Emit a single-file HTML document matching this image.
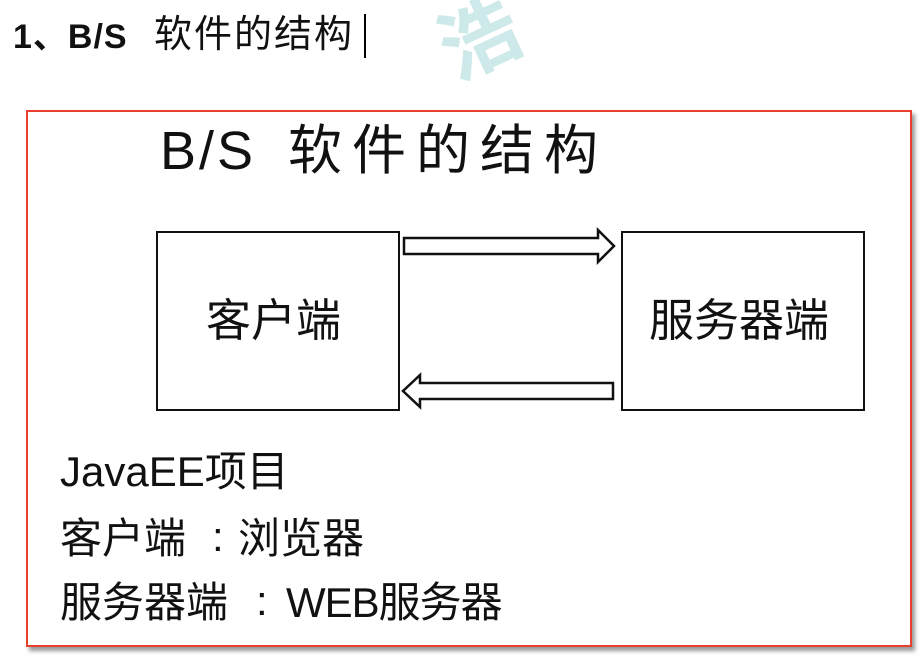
<!DOCTYPE html>
<html><head><meta charset="utf-8"><style>
body{margin:0;width:922px;height:658px;background:#fff;position:relative;overflow:hidden;font-family:"Liberation Sans","Noto Sans CJK SC",sans-serif;color:#111}
.a{position:absolute;white-space:nowrap;line-height:1}
</style></head><body>
<div class="a" style="left:13px;top:20px;font-size:34px;letter-spacing:1px"><b>1、B/S</b></div>
<div class="a" style="left:154px;top:16px;font-size:38px;letter-spacing:2px">软件的结构</div>
<div class="a" style="left:364px;top:14px;width:2px;height:44px;background:#000"></div>
<div class="a" style="left:440px;top:0;font-size:80px;color:#cde9ea;transform:rotate(-25deg);font-weight:bold">浩</div>
<div class="a" style="left:26px;top:110px;width:882px;height:533px;border:2px solid #e8402c;box-shadow:3px 4px 4px #999;background:#fff"></div>
<div class="a" style="left:160px;top:124px;font-size:54px;letter-spacing:3px">B/S</div>
<div class="a" style="left:288px;top:124px;font-size:54px;letter-spacing:10px">软件的结构</div>
<div class="a" style="left:156px;top:231px;width:240px;height:176px;border:2px solid #111"></div>
<div class="a" style="left:621px;top:231px;width:240px;height:176px;border:2px solid #111"></div>
<div class="a" style="left:206px;top:298px;font-size:45px">客户端</div>
<div class="a" style="left:649px;top:298px;font-size:45px">服务器端</div>
<svg class="a" style="left:0;top:0" width="922" height="658">
<polygon points="404,238 598,238 598,230 614,246 598,262 598,254 404,254" fill="#fff" stroke="#111" stroke-width="2.5"/>
<polygon points="613,383 420,383 420,375 403,391 420,407 420,399 613,399" fill="#fff" stroke="#111" stroke-width="2.5"/>
</svg>
<div class="a" style="left:60px;top:451px;font-size:42px">JavaEE项目</div>
<div class="a" style="left:60px;top:518px;font-size:42px">客户端</div>
<div class="a" style="left:212px;top:516px;font-size:42px">:</div>
<div class="a" style="left:238px;top:518px;font-size:42px">浏览器</div>
<div class="a" style="left:60px;top:582px;font-size:42px">服务器端</div>
<div class="a" style="left:256px;top:580px;font-size:42px">:</div>
<div class="a" style="left:286px;top:582px;font-size:42px;letter-spacing:-1px">WEB服务器</div>
</body></html>
